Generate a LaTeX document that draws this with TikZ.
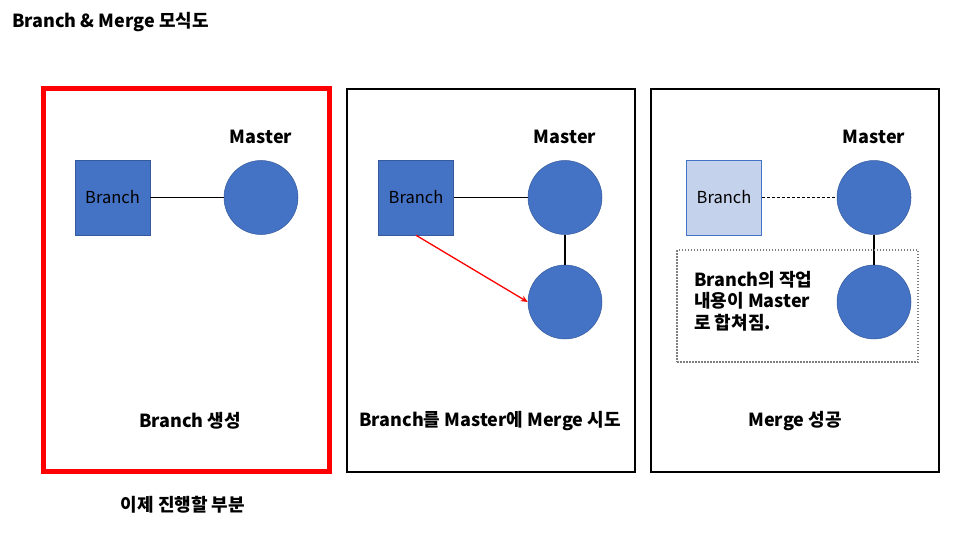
\documentclass[tikz,border=0pt]{standalone}
\usepackage{fontspec}
\setmainfont{Noto Sans CJK KR}
\usetikzlibrary{arrows.meta}
\definecolor{ublue}{HTML}{4472C4}
\definecolor{lblue}{HTML}{C5D2EC}
\definecolor{dgray}{HTML}{7F7F7F}
\tikzset{
  x=1pt,y=-1pt,
  panel/.style={draw=black,line width=1.6pt},
  redpanel/.style={draw=red,line width=5pt},
  sq/.style={rectangle,fill=ublue,draw=ublue!80!black,line width=0.5pt,minimum size=75pt,inner sep=0pt,font=\fontsize{16.5}{19}\selectfont},
  lsq/.style={sq,fill=lblue,draw=ublue},
  circ/.style={circle,fill=ublue,draw=ublue!80!black,line width=0.5pt,minimum size=74pt,inner sep=0pt},
  lbl/.style={font=\fontsize{18}{21}\selectfont\bfseries,inner sep=0pt},
  link/.style={draw=black,line width=1.2pt},
}
\begin{document}
\begin{tikzpicture}
\useasboundingbox (0,0) rectangle (960,540);
\node[lbl,anchor=west] (title) at (12,22) {Branch \& Merge 모식도};
% panels
\node[redpanel,minimum width=286pt,minimum height=382pt,inner sep=0pt] (p1) at (186,280) {};
\node[panel,minimum width=288pt,minimum height=383pt,inner sep=0pt] (p2) at (491,280.5) {};
\node[panel,minimum width=288pt,minimum height=383pt,inner sep=0pt] (p3) at (795,280.5) {};
% panel 1
\node[sq] (b1) at (112.5,197.5) {Branch};
\node[circ] (m1) at (261,197.5) {};
\node[lbl] (ml1) at (261,137) {Master};
\draw[link] (b1) -- (m1);
\node[lbl] (t1) at (190,421) {Branch 생성};
% panel 2
\node[sq] (b2) at (416,197.5) {Branch};
\node[circ] (m2) at (565,197.5) {};
\node[circ] (n2) at (565,302) {};
\node[lbl] (ml2) at (565,137) {Master};
\draw[link] (b2) -- (m2);
\draw[link,line width=1.8pt] (m2) -- (n2);
\draw[red,line width=1.3pt,-{Stealth[length=7pt,width=6pt]}] (b2.south) -- (n2.west);
\node[lbl] (t2) at (490,421) {Branch를 Master에 Merge 시도};
% panel 3
\node[lsq] (b3) at (724,197.5) {Branch};
\node[circ] (m3) at (874,197.5) {};
\node[circ] (n3) at (874,302) {};
\node[lbl] (ml3) at (874,137) {Master};
\draw[black,line width=1.2pt,dash pattern=on 3pt off 2pt] (b3) -- (m3);
\draw[link,line width=1.8pt] (m3) -- (n3);
\node[draw=dgray,line width=1.3pt,dash pattern=on 1.5pt off 1.5pt,minimum width=241pt,minimum height=112pt,inner sep=0pt] (box) at (797.5,306) {};
\node[lbl,anchor=north west,align=left,font=\fontsize{18}{21.5}\selectfont\bfseries] (txt) at (694,271) {Branch의 작업\\내용이 Master\\로 합쳐짐.};
\node[lbl] (t3) at (795,421) {Merge 성공};
\node[lbl] (note) at (183,505) {이제 진행할 부분};
\end{tikzpicture}
\end{document}
